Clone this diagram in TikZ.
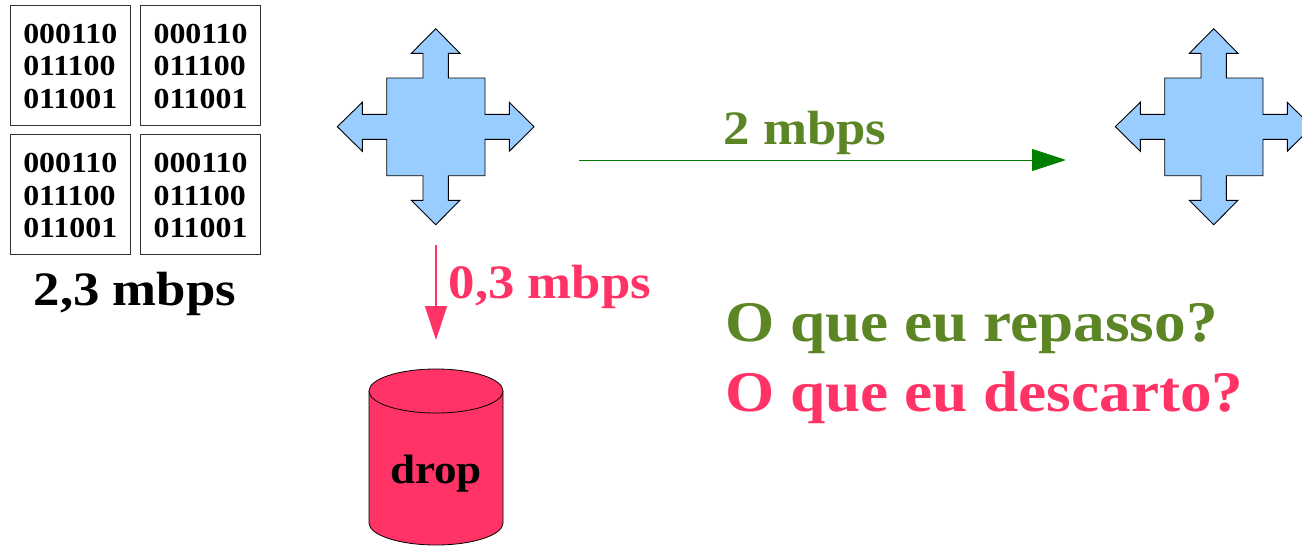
\documentclass[tikz,border=0pt]{standalone}
\usepackage{fontspec}
\setmainfont[FakeStretch=1.1]{Liberation Serif}
\usetikzlibrary{arrows.meta}
\definecolor{netblue}{HTML}{99CCFF}
\definecolor{droppink}{HTML}{FF3366}
\definecolor{passgreen}{HTML}{5C8526}
\definecolor{arrowgreen}{HTML}{008000}
\tikzset{
  packet/.style={draw=black!80,line width=0.8pt,fill=white,minimum width=120.5pt,minimum height=120pt,inner sep=0pt,outer sep=0pt,anchor=north west},
  bits/.style={align=left,font=\fontsize{29}{32.5}\selectfont\bfseries,inner sep=0pt,anchor=center},
  rate/.style={inner sep=0pt,font=\fontsize{48}{50}\selectfont\bfseries},
  question/.style={inner sep=0pt,anchor=base west,font=\fontsize{57.5}{62}\selectfont\bfseries},
  router/.style={draw=black,line width=0.9pt,fill=netblue,line join=miter},
  pipe/.style={line width=1pt},
  drum/.style={draw=black,line width=0.8pt,fill=droppink}
}
\newcommand{\routershape}[2]{%
  \draw[router,shift={(#1,#2)}]
    (0,-98) -- (24.3,-73.4) -- (12.7,-73.4) -- (12.7,-48.7) -- (49.3,-48.7) -- (49.3,-12.4)
    -- (73.6,-12.4) -- (73.6,-24.4) -- (98.3,0) -- (73.6,24.6) -- (73.6,12.6) -- (49.3,12.6)
    -- (49.3,49) -- (12.7,49) -- (12.7,73.6) -- (24.3,73.6) -- (0,98) -- (-24.3,73.6)
    -- (-12.7,73.6) -- (-12.7,49) -- (-49,49) -- (-49,12.6) -- (-73.4,12.6) -- (-73.4,24.6)
    -- (-98.4,0) -- (-73.4,-24.4) -- (-73.4,-12.4) -- (-49,-12.4) -- (-49,-48.7) -- (-12.7,-48.7)
    -- (-12.7,-73.4) -- (-24.3,-73.4) -- cycle;}
\begin{document}
\begin{tikzpicture}[x=1pt,y=-1pt]
\useasboundingbox (0,0) rectangle (1302,546);
\clip (0,0) rectangle (1302,546);
% packets
\node[packet] (p1) at (10,5) {};
\node[packet] (p2) at (140.3,5) {};
\node[packet] (p3) at (10,134.5) {};
\node[packet] (p4) at (140.3,134.5) {};
\foreach \p in {p1,p2,p3,p4}
  \node[bits,yshift=-1pt] at (\p.center) {000110\\011100\\011001};
\node[rate] (total) at (135,294) {2,3 mbps};
% routers
\routershape{435.7}{126.7}
\routershape{1213.7}{126.7}
% arrows
\coordinate (gs) at (579,160);
\coordinate (ge) at (1066,160);
\draw[pipe,draw=arrowgreen,-{Triangle[length=34pt,width=22pt,fill=arrowgreen]}] (gs) -- (ge);
\coordinate (ps) at (436,245);
\coordinate (pe) at (436,340);
\draw[pipe,line width=1.3pt,draw=droppink,-{Triangle[length=34pt,width=22pt,fill=droppink]}] (ps) -- (pe);
\node[rate,text=passgreen,anchor=center] (r2) at (805,133) {2 mbps};
\node[rate,text=droppink,anchor=center] (r3) at (550,287) {0,3 mbps};
% drum
\draw[drum] (369,391) -- (369,523) .. controls (369,535) and (399,545) .. (436,545) .. controls (473,545) and (503,535) .. (503,523) -- (503,391);
\draw[drum] (436,391) ellipse[x radius=67,y radius=22];
\node[inner sep=0pt,font=\fontsize{41}{46}\selectfont\bfseries] (drop) at (436,474) {drop};
% questions
\node[question,text=passgreen] (q1) at (725,341) {O que eu repasso?};
\node[question,text=droppink] (q2) at (725,411) {O que eu descarto?};
\end{tikzpicture}
\end{document}
